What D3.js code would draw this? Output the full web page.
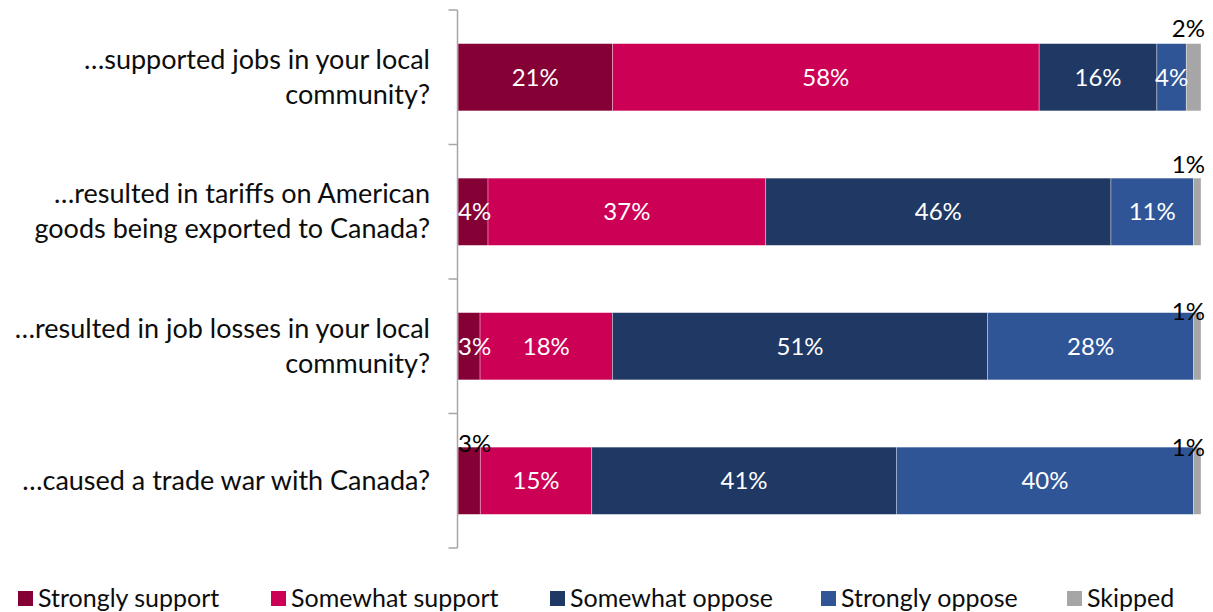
<!DOCTYPE html>
<html>
<head>
<meta charset="utf-8">
<script src="https://cdn.jsdelivr.net/npm/d3@7"></script>
<style>
  html, body { margin: 0; padding: 0; background: #fff; }
  svg { display: block; font-family: Lato, "Open Sans", sans-serif; }
</style>
</head>
<body>
<svg id="chart" width="1213" height="612"></svg>
<script>
// Survey questions (line breaks as shown on the axis)
const categories = [
  "…supported jobs in your local\ncommunity?",
  "…resulted in tariffs on American\ngoods being exported to Canada?",
  "…resulted in job losses in your local\ncommunity?",
  "…caused a trade war with Canada?"
];

// Response options, in stacking order
const seriesNames = ["Strongly support", "Somewhat support", "Somewhat oppose", "Strongly oppose", "Skipped"];

// Percent of respondents per question
const stronglySupport = [21, 4, 3, 3];
const somewhatSupport = [58, 37, 18, 15];
const somewhatOppose  = [16, 46, 51, 41];
const stronglyOppose  = [4, 11, 28, 40];
const skipped         = [2, 1, 1, 1];

const seriesColors = ["#850035", "#CC0055", "#203864", "#2F5597", "#A6A6A6"];

// ---------------------------------------------------------------------------
const width = 1213, height = 612;
const svg = d3.select("#chart");

const rows = categories.map((c, i) => ({
  category: c,
  "Strongly support": stronglySupport[i],
  "Somewhat support": somewhatSupport[i],
  "Somewhat oppose": somewhatOppose[i],
  "Strongly oppose": stronglyOppose[i],
  "Skipped": skipped[i]
}));

// 100% stacked: each question's responses fill the full bar
const stacked = d3.stack()
  .keys(seriesNames)
  .offset(d3.stackOffsetExpand)(rows);

const x = d3.scaleLinear().domain([0, 1]).range([458, 1201]);
const y = d3.scaleBand()
  .domain(categories)
  .range([10, 548])
  .paddingInner(0.5)
  .paddingOuter(0.25);

const color = d3.scaleOrdinal().domain(seriesNames).range(seriesColors);

// Bars
const layers = svg.append("g")
  .selectAll("g")
  .data(stacked)
  .join("g")
  .attr("fill", d => color(d.key));

layers.selectAll("rect")
  .data(d => d.map(v => Object.assign(v, { key: d.key })))
  .join("rect")
  .attr("x", d => x(d[0]))
  .attr("y", d => y(d.data.category))
  .attr("width", d => x(d[1]) - x(d[0]))
  .attr("height", y.bandwidth())
  .attr("stroke", "rgba(255,255,255,0.45)")
  .attr("stroke-width", 0.75);

// Category axis: vertical rule with ticks between the questions
const axis = svg.append("g").attr("stroke", "#A6A6A6").attr("stroke-width", 1.5);
const axisX = x(0) - 0.5;
axis.append("line")
  .attr("x1", axisX).attr("x2", axisX)
  .attr("y1", y.range()[0]).attr("y2", y.range()[1]);
const boundaries = categories.map(c => y(c) - y.step() * y.paddingInner() / 2)
  .concat([y.range()[1]]);
axis.selectAll("line.tick")
  .data(boundaries)
  .join("line")
  .attr("class", "tick")
  .attr("x1", axisX - 9).attr("x2", axisX)
  .attr("y1", d => d).attr("y2", d => d);

// Category labels, right-aligned next to the axis
const catFont = 27, lineGap = 35;
svg.append("g")
  .selectAll("text")
  .data(categories)
  .join("text")
  .attr("text-anchor", "end")
  .attr("font-size", catFont)
  .attr("fill", "#0d0d0d")
  .each(function (c) {
    const lines = c.split("\n");
    const cy = y(c) + y.bandwidth() / 2;
    const top = cy - (lines.length - 1) * lineGap / 2;
    d3.select(this).selectAll("tspan")
      .data(lines)
      .join("tspan")
      .attr("x", 430)
      .attr("y", (l, i) => top + 9 + i * lineGap)
      .text(l => l);
  });

// Value labels: inside in white, a few small ones sit above the bar in black
const outside = {
  "Skipped": [-15, -14, -1, 0],
  "Strongly support": [null, null, null, -4]
};
const labelFont = 24;
const labelG = svg.append("g").attr("font-size", labelFont);
stacked.forEach(layer => {
  layer.forEach((d, i) => {
    const val = rows[i][layer.key];
    const off = outside[layer.key] ? outside[layer.key][i] : null;
    const isOut = off !== null && off !== undefined;
    const t = labelG.append("text")
      .attr("fill", isOut ? "#000" : "#fff")
      .text(val + "%");
    const w = t.node().getComputedTextLength();
    const x0 = x(d[0]), x1 = x(d[1]);
    let cx = (x0 + x1) / 2;
    if (layer.key === "Skipped") cx = x1 + 4 - w / 2;
    cx = Math.max(cx, x(0) + w / 2);
    const cy = y(d.data.category) + y.bandwidth() / 2 + (isOut ? off - y.bandwidth() / 2 : 0);
    t.attr("x", cx).attr("y", cy + 8.5).attr("text-anchor", "middle");
  });
});

// Legend
const legendX = [18, 271, 550, 821, 1067];
const legend = svg.append("g")
  .selectAll("g")
  .data(seriesNames)
  .join("g")
  .attr("transform", (d, i) => `translate(${legendX[i]},591)`);
legend.append("rect")
  .attr("width", 15).attr("height", 15)
  .attr("fill", d => color(d));
legend.append("text")
  .attr("x", 20).attr("y", 16)
  .attr("font-size", 25)
  .attr("fill", "#0d0d0d")
  .text(d => d);
</script>
</body>
</html>
